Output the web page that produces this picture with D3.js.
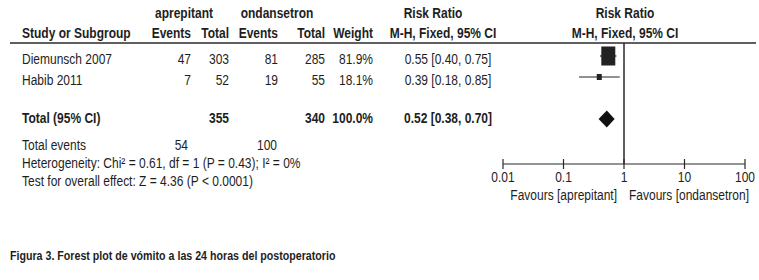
<!DOCTYPE html>
<html><head><meta charset="utf-8">
<script src="https://cdn.jsdelivr.net/npm/d3@7/dist/d3.min.js"></script>
<style>
html,body{margin:0;padding:0;background:#fff;}
svg{display:block;}
text{font-family:"Liberation Sans Narrow","Arial Narrow","Liberation Sans",Arial,sans-serif;fill:#1e1e1e;}
</style></head>
<body>
<svg id="chart" width="759" height="280"></svg>
<script>
const studies = ["Diemunsch 2007", "Habib 2011"];
const expEvents = [47, 7];
const expTotal = [303, 52];
const ctrlEvents = [81, 19];
const ctrlTotal = [285, 55];
const weights = [81.9, 18.1];
const rr = [0.55, 0.39];
const rrLow = [0.40, 0.18];
const rrHigh = [0.75, 0.85];
const rrLabels = ["0.55 [0.40, 0.75]", "0.39 [0.18, 0.85]"];
const totalLabel = "Total (95% CI)";
const totalExp = 355, totalCtrl = 340, totalWeight = "100.0%";
const totalRR = 0.52, totalLow = 0.38, totalHigh = 0.70;
const totalRRLabel = "0.52 [0.38, 0.70]";
const totalEventsExp = 54, totalEventsCtrl = 100;
const heterogeneity = "Heterogeneity: Chi² = 0.61, df = 1 (P = 0.43); I² = 0%";
const overallEffect = "Test for overall effect: Z = 4.36 (P < 0.0001)";
const axisTicks = [0.01, 0.1, 1, 10, 100];
const favourLeft = "Favours [aprepitant]";
const favourRight = "Favours [ondansetron]";
const caption = "Figura 3. Forest plot de vómito a las 24 horas del postoperatorio";

const svg = d3.select("#chart");
const fs = 15;
const SX = 0.80;

const col = {study: 22, ev1: 191, tot1: 229, ev2: 278, tot2: 325, wt: 373, rr: 448};
function txt(x, y, s, anchor, bold, size, sx) {
  return svg.append("text")
    .attr("transform", `translate(${x},${y}) scale(${sx || SX},1)`)
    .attr("text-anchor", anchor || "start")
    .attr("font-size", size || fs).attr("font-weight", bold ? "bold" : "normal").text(s);
}

// headers
txt(184, 18, "aprepitant", "middle", true);
txt(277, 18, "ondansetron", "middle", true);
txt(433, 18, "Risk Ratio", "middle", true);
txt(625, 18, "Risk Ratio", "middle", true);
txt(col.study, 38, "Study or Subgroup", "start", true);
txt(col.ev1, 38, "Events", "end", true);
txt(col.tot1, 38, "Total", "end", true);
txt(col.ev2, 38, "Events", "end", true);
txt(col.tot2, 38, "Total", "end", true);
txt(col.wt, 38, "Weight", "end", true);
txt(443, 38, "M-H, Fixed, 95% CI", "middle", true);
txt(625, 38, "M-H, Fixed, 95% CI", "middle", true);

svg.append("line").attr("x1", 10).attr("x2", 756).attr("y1", 43).attr("y2", 43)
  .attr("stroke", "#2a2a2a").attr("stroke-width", 1.5);

// rows
const rowBase = d3.scalePoint().domain(studies).range([64, 85]);
const x = d3.scaleLog().domain([0.01, 100]).range([503, 745]);
const boxW = d3.scaleLinear().domain([18.1, 81.9]).range([5, 14]);
const boxH = d3.scaleLinear().domain([18.1, 81.9]).range([6, 19]);

studies.forEach((s, i) => {
  const yb = rowBase(s);
  txt(col.study, yb, s);
  txt(col.ev1, yb, expEvents[i], "end");
  txt(col.tot1, yb, expTotal[i], "end");
  txt(col.ev2, yb, ctrlEvents[i], "end");
  txt(col.tot2, yb, ctrlTotal[i], "end");
  txt(col.wt, yb, weights[i].toFixed(1) + "%", "end");
  txt(col.rr, yb, rrLabels[i], "middle");
  const ym = yb - 8;
  svg.append("line").attr("x1", x(rrLow[i])).attr("x2", x(rrHigh[i]))
    .attr("y1", ym).attr("y2", ym).attr("stroke", "#222").attr("stroke-width", 1.2);
  const w = boxW(weights[i]), h = boxH(weights[i]);
  svg.append("rect").attr("x", x(rr[i]) - w / 2).attr("y", ym - h / 2)
    .attr("width", w).attr("height", h).attr("fill", "#222");
});

// total row
const totY = 123;
txt(col.study, totY, totalLabel, "start", true);
txt(col.tot1, totY, totalExp, "end", true);
txt(col.tot2, totY, totalCtrl, "end", true);
txt(col.wt, totY, totalWeight, "end", true);
txt(col.rr, totY, totalRRLabel, "middle", true);
const dy = totY - 4;
svg.append("path")
  .attr("d", `M${x(totalLow)},${dy} L${x(totalRR)},${dy - 8.5} L${x(totalHigh)},${dy} L${x(totalRR)},${dy + 8.5} Z`)
  .attr("fill", "#111");

txt(col.study, 150, "Total events");
txt(col.ev1 - 3, 150, totalEventsExp, "end");
txt(col.ev2 - 1, 150, totalEventsCtrl, "end");
txt(col.study, 168, heterogeneity);
txt(col.study, 186, overallEffect);

// axis
const axisY = 164;
svg.append("line").attr("x1", x(1)).attr("x2", x(1)).attr("y1", 43).attr("y2", axisY)
  .attr("stroke", "#2a2a2a").attr("stroke-width", 1.5);
const axis = d3.axisBottom(x).tickValues(axisTicks).tickFormat(d => String(d)).tickSize(0);
const gA = svg.append("g").attr("transform", `translate(0,${axisY})`).call(axis);
gA.select(".domain").remove();
gA.selectAll(".tick text").remove();
svg.append("line").attr("x1", x(0.01)).attr("x2", x(100)).attr("y1", axisY).attr("y2", axisY)
  .attr("stroke", "#2a2a2a").attr("stroke-width", 1.2);
axisTicks.forEach(t => {
  svg.append("line").attr("x1", x(t)).attr("x2", x(t)).attr("y1", axisY - 5).attr("y2", axisY + 5)
    .attr("stroke", "#2a2a2a").attr("stroke-width", 1.2);
  txt(x(t), axisY + 18, String(t), "middle");
});
txt(617, 200, favourLeft, "end");
txt(629, 200, favourRight, "start");

// caption
txt(10, 260, caption, "start", true, 13, 0.82);
</script>
</body></html>
